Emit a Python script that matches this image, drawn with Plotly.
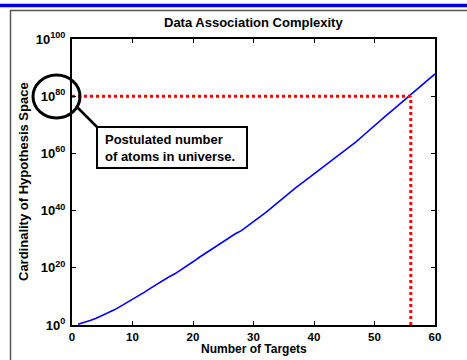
import plotly.graph_objects as go

# ---- data ----
targets = list(range(1, 61))
log10_hypotheses = [
    0.3, 0.9, 1.6, 2.4, 3.3, 4.3, 5.3, 6.5, 7.7, 8.9,
    10.2, 11.5, 12.9, 14.3, 15.6, 16.8, 17.9, 19.2, 20.6, 22.1,
    23.6, 25.0, 26.4, 27.9, 29.2, 30.6, 31.9, 33.0, 34.5, 36.0,
    37.7, 39.3, 41.0, 42.8, 44.5, 46.3, 48.0, 49.6, 51.2, 52.8,
    54.3, 55.9, 57.5, 59.0, 60.6, 62.3, 64.1, 66.0, 67.9, 69.8,
    71.6, 73.4, 75.1, 76.9, 78.7, 80.5, 82.3, 84.1, 85.9, 87.8,
]
hypotheses = [10.0 ** v for v in log10_hypotheses]

atoms_in_universe = 1e80
targets_at_atoms = 56
x_tick_values = [0, 10, 20, 30, 40, 50, 60]
y_tick_exponents = [0, 20, 40, 60, 80, 100]
y_tick_values = [10.0 ** e for e in y_tick_exponents]
y_tick_labels = ["10<sup>%d</sup>" % e for e in y_tick_exponents]

title_text = "Data Association Complexity"
x_title = "Number of Targets"
y_title = "Cardinality of Hypothesis Space"
note_text = "Postulated number<br>of atoms in universe."

# ---- layout geometry (pixels) ----
W, H = 467, 360
L, R, T, B = 72, 435, 39, 325


def px(xp):
    return (xp - L) / (R - L)


def py(yp):
    return (B - yp) / (B - T)


FONT = "Liberation Sans, Arial, sans-serif"

fig = go.Figure()
fig.add_trace(go.Scatter(
    x=targets, y=hypotheses, mode="lines",
    line=dict(color="#0000ff", width=1.6), hoverinfo="skip", showlegend=False))
fig.add_trace(go.Scatter(
    x=[0, targets_at_atoms], y=[atoms_in_universe, atoms_in_universe], mode="lines",
    line=dict(color="#ff0000", width=3, dash="3px,3px"), showlegend=False))
fig.add_trace(go.Scatter(
    x=[targets_at_atoms, targets_at_atoms], y=[1.0, atoms_in_universe], mode="lines",
    line=dict(color="#ff0000", width=3, dash="3px,3px"), showlegend=False))

axis_common = dict(
    showgrid=False, zeroline=False, showline=True, linecolor="black", linewidth=2,
    mirror="ticks", ticks="inside", ticklen=4, tickwidth=1, tickcolor="black",
)

fig.update_xaxes(range=[0, 60], tickvals=x_tick_values,
                 tickfont=dict(family=FONT, size=11.5, color="black", weight="bold"),
                 **axis_common)
fig.update_yaxes(type="log", range=[0, 100], tickvals=y_tick_values,
                 ticktext=y_tick_labels, ticklabelstandoff=2,
                 tickfont=dict(family=FONT, size=13, color="black", weight="bold"),
                 **axis_common)

shapes = [
    # blue banner line at top
    dict(type="line", xref="paper", yref="paper", x0=px(0), x1=px(467),
         y0=py(5.5), y1=py(5.5), line=dict(color="#0000e6", width=3.5)),
    # grey frame
    dict(type="line", xref="paper", yref="paper", x0=px(10), x1=px(467),
         y0=py(10.5), y1=py(10.5), line=dict(color="#555555", width=1.5)),
    dict(type="line", xref="paper", yref="paper", x0=px(10.5), x1=px(10.5),
         y0=py(10), y1=py(360), line=dict(color="#555555", width=1.5)),
    # ellipse around 10^80
    dict(type="circle", xref="paper", yref="paper", x0=px(33), x1=px(80),
         y0=py(75), y1=py(118), line=dict(color="black", width=3)),
    # connector
    dict(type="line", xref="paper", yref="paper", x0=px(76), x1=px(97),
         y0=py(106), y1=py(127), line=dict(color="black", width=2.5)),
    # note box
    dict(type="rect", xref="paper", yref="paper", x0=px(97), x1=px(247),
         y0=py(127), y1=py(168), line=dict(color="black", width=2),
         fillcolor="white"),
]

annotations = [
    dict(text=title_text, xref="paper", yref="paper", x=0.5, y=py(22),
         showarrow=False, xanchor="center", yanchor="middle",
         font=dict(family=FONT, size=13, color="black", weight="bold")),
    dict(text=x_title, xref="paper", yref="paper", x=0.5, y=py(349),
         showarrow=False, xanchor="center", yanchor="middle",
         font=dict(family=FONT, size=12, color="black", weight="bold")),
    dict(text=y_title, xref="paper", yref="paper", x=px(23), y=0.5,
         textangle=-90, showarrow=False, xanchor="center", yanchor="middle",
         font=dict(family=FONT, size=13, color="black", weight="bold")),
    dict(text=note_text, xref="paper", yref="paper", x=px(103), y=py(148),
         showarrow=False, xanchor="left", yanchor="middle", align="left",
         font=dict(family=FONT, size=13, color="black", weight="bold")),
]

fig.update_layout(
    width=W, height=H,
    margin=dict(l=L, r=W - R, t=T, b=H - B, autoexpand=False),
    paper_bgcolor="white", plot_bgcolor="white",
    shapes=shapes, annotations=annotations,
    font=dict(family=FONT, color="black"),
)

fig.write_html("out.html", config={"displayModeBar": False})
